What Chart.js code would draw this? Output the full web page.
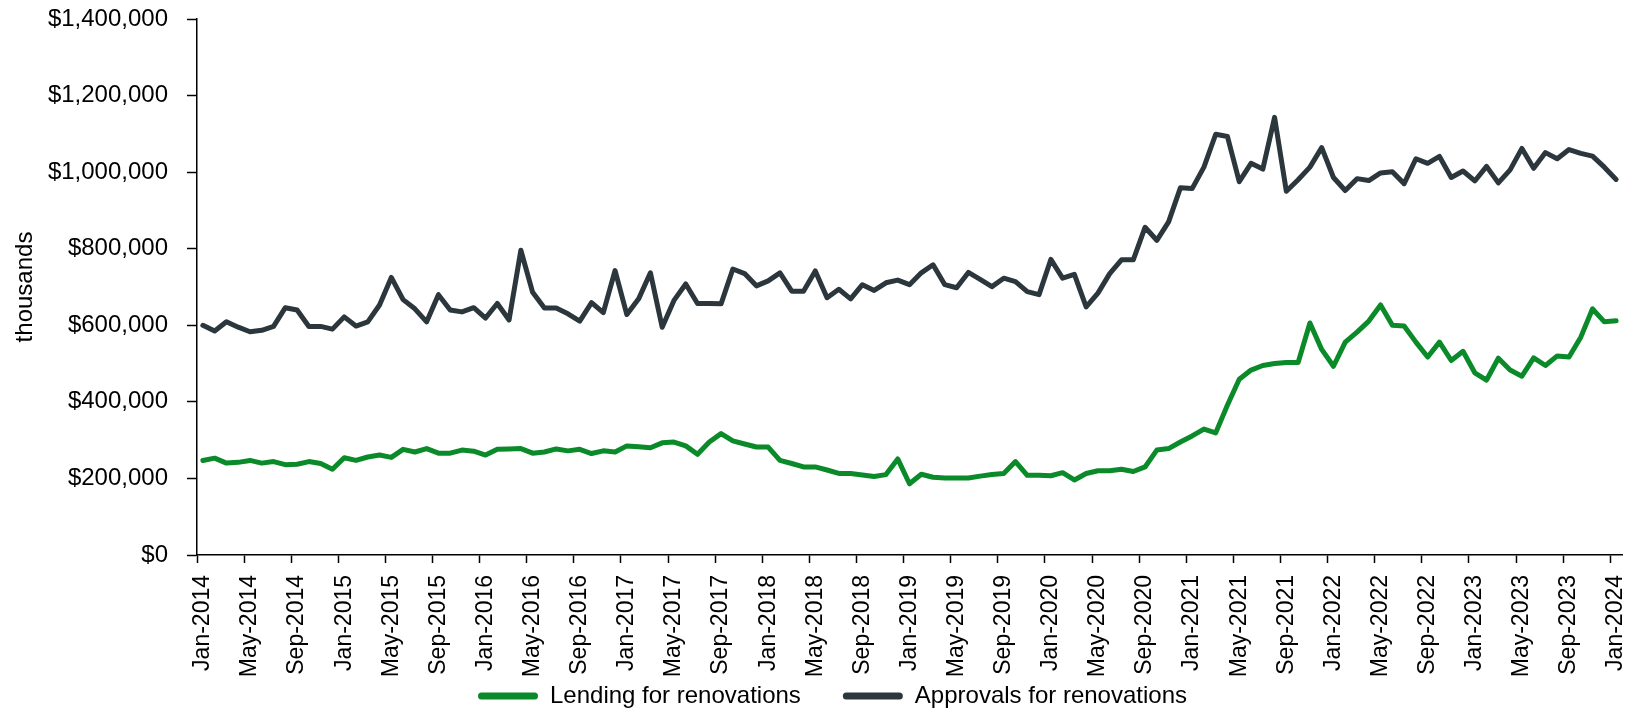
<!DOCTYPE html>
<html>
<head>
<meta charset="utf-8">
<script src="https://cdn.jsdelivr.net/npm/chart.js@4.4.1/dist/chart.umd.min.js"></script>
<style>
  html, body { margin: 0; padding: 0; background: #ffffff; }
  #wrap { width: 1631px; height: 713px; }
</style>
</head>
<body>
<div id="wrap"><canvas id="c" width="1631" height="713"></canvas></div>
<script>
// ---------- DATA ----------
const MONTH_NAMES = ['Jan','Feb','Mar','Apr','May','Jun','Jul','Aug','Sep','Oct','Nov','Dec'];
const YEARS = [2014, 2015, 2016, 2017, 2018, 2019, 2020, 2021, 2022, 2023, 2024];
// categories: Jan-2014 ... Jan-2024 (monthly)
const categories = [];
for (const y of YEARS) {
  for (const m of MONTH_NAMES) {
    if (y === 2024 && m !== 'Jan') break;
    categories.push(m + '-' + y);
  }
}
const TICK_EVERY = 4; // a label every 4 months

const seriesNames = ['Lending for renovations', 'Approvals for renovations'];

// values in $ thousands
const lending = [
  247000,253000,240000,242000,247000,240000,244000,236000,237000,244000,239000,224000,
  254000,247000,256000,261000,255000,276000,269000,278000,266000,266000,274000,271000,
  261000,276000,277000,278000,266000,269000,277000,272000,276000,265000,272000,269000,
  285000,283000,280000,293000,295000,285000,263000,295000,317000,298000,290000,282000,
  282000,247000,239000,230000,230000,222000,213000,213000,209000,205000,210000,251000,
  186000,211000,203000,201000,201000,201000,206000,210000,213000,244000,208000,208000,
  207000,215000,196000,213000,220000,220000,224000,218000,230000,274000,278000,295000,
  311000,329000,319000,392000,459000,483000,495000,500000,503000,503000,606000,537000,
  493000,556000,582000,611000,653000,600000,598000,556000,517000,556000,508000,532000,
  476000,457000,514000,483000,467000,515000,495000,520000,517000,569000,643000,609000,
  612000
];
const approvals = [
  600000,585000,609000,595000,583000,587000,597000,646000,640000,597000,597000,590000,
  622000,598000,609000,653000,725000,667000,643000,609000,680000,640000,635000,646000,
  619000,657000,614000,796000,686000,645000,645000,630000,611000,659000,633000,743000,
  628000,669000,737000,595000,665000,708000,657000,657000,656000,747000,735000,703000,
  716000,737000,689000,689000,742000,672000,694000,669000,706000,691000,711000,718000,
  706000,737000,758000,706000,698000,738000,720000,701000,723000,714000,688000,680000,
  772000,723000,733000,648000,684000,735000,771000,771000,856000,822000,870000,959000,
  957000,1013000,1099000,1093000,975000,1023000,1008000,1143000,950000,980000,1013000,1064000,
  986000,952000,983000,978000,998000,1001000,970000,1035000,1023000,1041000,986000,1003000,
  977000,1015000,972000,1006000,1062000,1010000,1051000,1035000,1059000,1049000,1042000,1013000,
  981000
];

const Y_MIN = 0, Y_MAX = 1400000, Y_STEP = 200000;
const yTitle = 'thousands';

// ---------- STYLE ----------
const GREEN = '#0A8A28';
const DARK = '#2C363D';
const AXIS = '#000000';
const FONT = "'Liberation Sans', Arial, sans-serif";

// plot-area geometry
const PLOT_LEFT = 197, PLOT_TOP = 19, PLOT_BOTTOM = 555, PLOT_RIGHT = 1622;
const CANVAS_H = 713, CANVAS_W = 1631;
const LEGEND_PAD = 42;
const LEGEND_START_X = 478;
const LEGEND_TEXT_MID = 696;
const LEGEND_FONT = 24;

Chart.defaults.font.family = FONT;
Chart.defaults.color = '#000';

const legendPlacer = {
  id: 'legendPlacer',
  afterLayout(chart) {
    const lg = chart.legend;
    if (lg) {
      const h = lg.height, w = lg.width;
      lg.top = LEGEND_TEXT_MID - LEGEND_FONT / 2 - LEGEND_PAD;
      lg.bottom = lg.top + h;
      lg.left = LEGEND_START_X - LEGEND_PAD;
      lg.right = lg.left + w;
    }
    // let the rotated month labels use the full height below the axis
    const xs = chart.scales.x;
    if (xs) xs.bottom = CANVAS_H;
  }
};

new Chart(document.getElementById('c'), {
  type: 'line',
  data: {
    labels: categories,
    datasets: [
      {
        label: seriesNames[0],
        data: lending,
        borderColor: GREEN,
        backgroundColor: GREEN,
        borderWidth: 5,
        pointRadius: 0,
        pointHoverRadius: 0,
        tension: 0,
        borderJoinStyle: 'round',
        borderCapStyle: 'round',
        fill: false
      },
      {
        label: seriesNames[1],
        data: approvals,
        borderColor: DARK,
        backgroundColor: DARK,
        borderWidth: 5,
        pointRadius: 0,
        pointHoverRadius: 0,
        tension: 0,
        borderJoinStyle: 'round',
        borderCapStyle: 'round',
        fill: false
      }
    ]
  },
  options: {
    responsive: false,
    animation: false,
    devicePixelRatio: 1,
    layout: { padding: { left: 0, top: PLOT_TOP, right: CANVAS_W - PLOT_RIGHT, bottom: 0 } },
    plugins: {
      tooltip: { enabled: false },
      title: { display: false },
      legend: {
        display: true,
        position: 'bottom',
        align: 'start',
        labels: {
          font: { family: FONT, size: LEGEND_FONT },
          color: '#000',
          boxWidth: 60,
          boxHeight: 7,
          padding: LEGEND_PAD,
          generateLabels(chart) {
            const items = Chart.defaults.plugins.legend.labels.generateLabels(chart);
            return items.map(it => Object.assign(it, {
              lineWidth: 0,
              fillStyle: it.strokeStyle,
              borderRadius: 3.5
            }));
          }
        }
      }
    },
    scales: {
      x: {
        type: 'category',
        offset: true,
        grid: {
          offset: true,
          drawOnChartArea: false,
          drawTicks: true,
          tickLength: 8,
          tickWidth: 1.5,
          tickColor: (ctx) => (ctx.index !== undefined && ctx.index % TICK_EVERY === 0) ? AXIS : 'rgba(0,0,0,0)'
        },
        border: { display: true, color: AXIS, width: 1.5 },
        ticks: {
          autoSkip: false,
          minRotation: 90,
          maxRotation: 90,
          padding: 12,
          color: '#000',
          font: { family: FONT, size: 23 },
          callback: function (value, index) {
            return index % TICK_EVERY === 0 ? this.getLabelForValue(value) : '';
          }
        },
        afterFit(scale) {
          const lh = scale.chart.legend ? scale.chart.legend.height : 0;
          scale.height = Math.max(CANVAS_H - lh - PLOT_BOTTOM, 1);
          scale.paddingLeft = 0;
          scale.paddingRight = 0;
        }
      },
      y: {
        min: Y_MIN,
        max: Y_MAX,
        grid: {
          drawOnChartArea: false,
          drawTicks: true,
          tickLength: 10,
          tickWidth: 1.5,
          tickColor: AXIS
        },
        border: { display: true, color: AXIS, width: 1.5 },
        ticks: {
          stepSize: Y_STEP,
          padding: 19,
          color: '#000',
          font: { family: FONT, size: 24 },
          callback: (v) => '$' + Number(v).toLocaleString('en-US')
        },
        title: {
          display: true,
          text: yTitle,
          color: '#000',
          font: { family: FONT, size: 24 },
          padding: { top: 11, bottom: 0 }
        },
        afterFit(scale) {
          scale.width = PLOT_LEFT;
          scale.paddingTop = 0;
          scale.paddingBottom = 0;
        }
      }
    }
  },
  plugins: [legendPlacer]
});
</script>
</body>
</html>
